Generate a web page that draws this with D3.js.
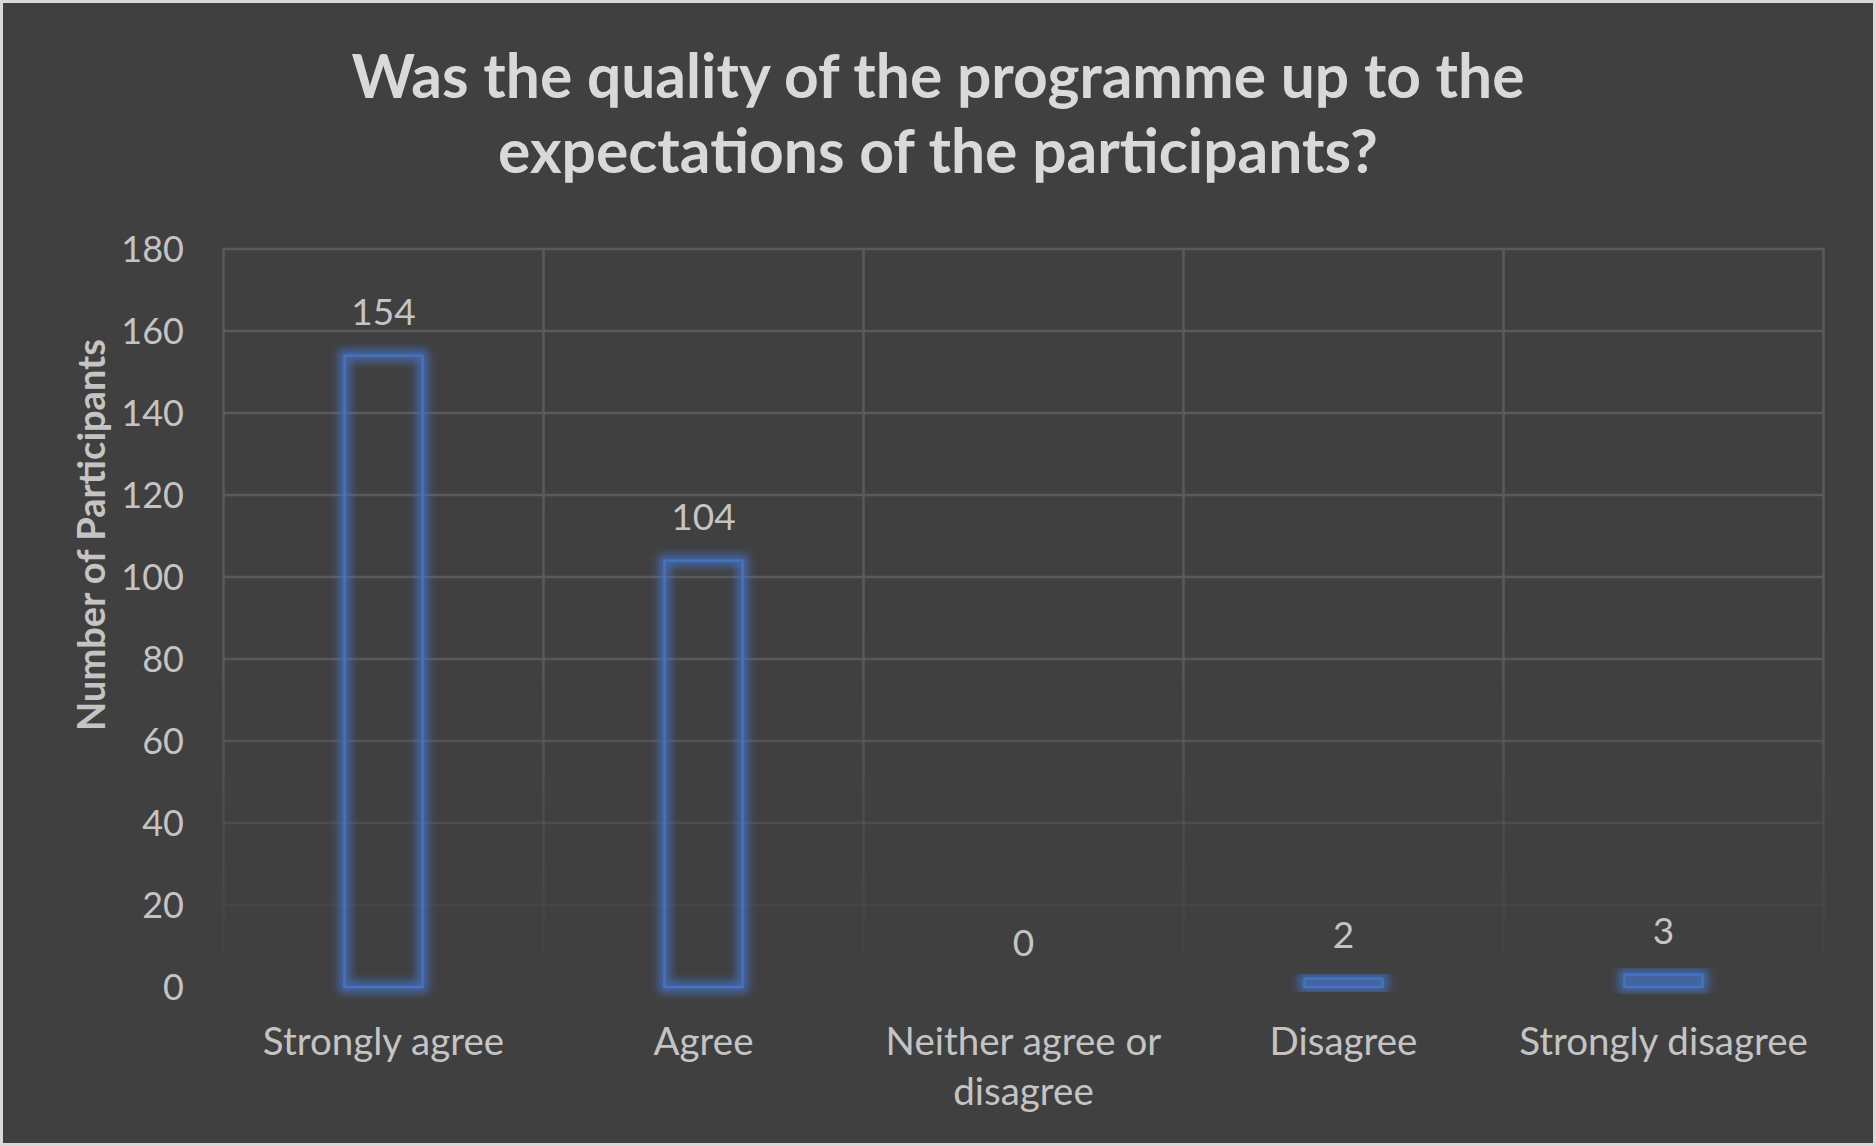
<!DOCTYPE html>
<html>
<head>
<meta charset="utf-8">
<script src="https://cdn.jsdelivr.net/npm/d3@7"></script>
<style>
  html, body { margin: 0; padding: 0; background: #d9d9d9; }
  svg { display: block; }
</style>
</head>
<body>
<script>
const titleLines = ["Was the quality of the programme up to the", "expectations of the participants?"];
const categories = ["Strongly agree", "Agree", "Neither agree or disagree", "Disagree", "Strongly disagree"];
const categoryLines = [["Strongly agree"], ["Agree"], ["Neither agree or", "disagree"], ["Disagree"], ["Strongly disagree"]];
const values = [154, 104, 0, 2, 3];
const yTicks = [0, 20, 40, 60, 80, 100, 120, 140, 160, 180];
const yTitle = "Number of Participants";

const W = 1876, H = 1146;
const plot = { left: 223.5, right: 1823.5, top: 249, bottom: 987 };
const FONT = "Lato, 'Open Sans', sans-serif";

const svg = d3.select("body").append("svg").attr("width", W).attr("height", H);
const defs = svg.append("defs");

const grad = defs.append("linearGradient")
  .attr("id", "gridFade").attr("gradientUnits", "userSpaceOnUse")
  .attr("x1", 0).attr("y1", plot.top).attr("x2", 0).attr("y2", plot.bottom);
grad.append("stop").attr("offset", "0%").attr("stop-color", "#5a5a5a").attr("stop-opacity", 1);
grad.append("stop").attr("offset", "52%").attr("stop-color", "#5a5a5a").attr("stop-opacity", 1);
grad.append("stop").attr("offset", "100%").attr("stop-color", "#5a5a5a").attr("stop-opacity", 0);

const glow = defs.append("filter").attr("id", "glow")
  .attr("x", "-50%").attr("y", "-50%").attr("width", "200%").attr("height", "200%");
glow.append("feGaussianBlur").attr("stdDeviation", 4);

svg.append("rect").attr("x", 3).attr("y", 3).attr("width", W - 6).attr("height", H - 6).attr("fill", "#404040");

const x = d3.scaleBand().domain(categories).range([plot.left, plot.right]).paddingInner(0.756).paddingOuter(0.378);
const y = d3.scaleLinear().domain([0, 180]).range([plot.bottom, plot.top]);

// gridlines
const grid = svg.append("g");
grid.selectAll("line.h").data(yTicks.filter(d => d > 0)).join("line")
  .attr("x1", plot.left).attr("x2", plot.right)
  .attr("y1", d => y(d)).attr("y2", d => y(d))
  .attr("stroke", "url(#gridFade)").attr("stroke-width", 2.5);
const step = x.step();
const vEdges = categories.map((c, i) => plot.left + i * step).concat([plot.right]);
grid.selectAll("line.v").data(vEdges).join("line")
  .attr("x1", d => d).attr("x2", d => d)
  .attr("y1", plot.top - 1.25).attr("y2", plot.bottom)
  .attr("stroke", "url(#gridFade)").attr("stroke-width", 2.5);

// y axis
const yAxis = d3.axisLeft(y).tickValues(yTicks).tickSize(0).tickPadding(0);
const gy = svg.append("g").attr("transform", `translate(184,0)`).call(yAxis);
gy.select(".domain").remove();
gy.selectAll("text").attr("font-family", FONT).attr("font-size", 36).attr("fill", "#c4c4c4").attr("dy", "0.36em");

// y title
svg.append("text")
  .attr("transform", `translate(92,535) rotate(-90)`)
  .attr("text-anchor", "middle").attr("dy", "0.35em")
  .attr("font-family", FONT).attr("font-weight", 700).attr("font-size", 38)
  .attr("fill", "#c4c4c4").text(yTitle);

// bars
const barData = categories.map((c, i) => ({ c, v: values[i] }));
const bars = svg.append("g");
bars.selectAll("rect.glow").data(barData.filter(d => d.v > 0)).join("rect")
  .attr("x", d => x(d.c)).attr("y", d => y(d.v))
  .attr("width", x.bandwidth()).attr("height", d => y(0) - y(d.v))
  .attr("fill", "none").attr("stroke", "#4472c4").attr("stroke-opacity", 0.75)
  .attr("stroke-width", 12).attr("filter", "url(#glow)");
bars.selectAll("rect.bar").data(barData.filter(d => d.v > 0)).join("rect")
  .attr("x", d => x(d.c)).attr("y", d => y(d.v))
  .attr("width", x.bandwidth()).attr("height", d => y(0) - y(d.v))
  .attr("fill", "none").attr("stroke", "#4472c4").attr("stroke-width", 2.5);

// data labels
svg.append("g").selectAll("text").data(barData).join("text")
  .attr("x", d => x(d.c) + x.bandwidth() / 2).attr("y", d => y(d.v) - 31)
  .attr("text-anchor", "middle")
  .attr("font-family", FONT).attr("font-size", 37).attr("fill", "#c4c4c4")
  .text(d => d.v);

// x labels
const xl = svg.append("g").selectAll("text").data(categories).join("text")
  .attr("text-anchor", "middle")
  .attr("font-family", FONT).attr("font-size", 38.5).attr("fill", "#c4c4c4");
xl.each(function(c, i) {
  const t = d3.select(this);
  categoryLines[i].forEach((line, k) => {
    t.append("tspan").attr("x", x(c) + x.bandwidth() / 2).attr("y", 1055 + k * 50).text(line);
  });
});

// title
svg.append("g").selectAll("text").data(titleLines).join("text")
  .attr("x", W / 2).attr("y", (d, i) => 98 + i * 75)
  .attr("text-anchor", "middle")
  .attr("font-family", FONT).attr("font-weight", 700).attr("font-size", 60.5)
  .attr("fill", "#d9d9d9").text(d => d);
</script>
</body>
</html>
